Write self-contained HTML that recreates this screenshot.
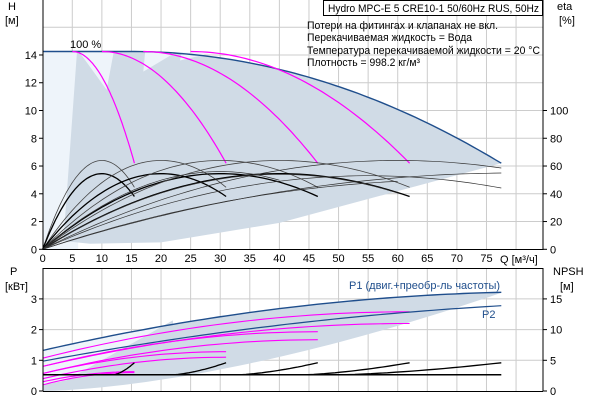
<!DOCTYPE html>
<html><head><meta charset="utf-8"><style>
body{margin:0;background:#fff}
svg{display:block;font-family:"Liberation Sans",sans-serif;font-size:11px}
</style></head><body>
<svg id="s" width="600" height="400" viewBox="0 0 600 400" xmlns="http://www.w3.org/2000/svg">
<g id="grid"></g>
<g id="shapes"></g>
<g id="lines"></g>
<line x1="43" y1="0" x2="43" y2="250" stroke="#000"/>
<line x1="43" y1="249.5" x2="543" y2="249.5" stroke="#000"/>
<line x1="543" y1="0" x2="543" y2="250" stroke="#000"/>
<line x1="43" y1="268.5" x2="543" y2="268.5" stroke="#000"/>
<line x1="43" y1="268" x2="43" y2="391" stroke="#000"/>
<line x1="43" y1="391.5" x2="543" y2="391.5" stroke="#000"/>
<line x1="543" y1="268" x2="543" y2="391" stroke="#000"/>
<g id="labels" fill="#000"></g>
<text x="8" y="10">H</text><text x="5" y="24">[м]</text>
<text x="557" y="10">eta</text><text x="559" y="24">[%]</text>
<text x="500" y="263">Q [м³/ч]</text>
<text x="10" y="275">P</text><text x="5" y="290">[кВт]</text>
<text x="553" y="275">NPSH</text><text x="560" y="290">[м]</text>
<text x="70" y="48">100 %</text>
<rect x="323.5" y="0.5" width="219" height="15" fill="#fff" stroke="#000"/>
<text x="328" y="12" textLength="211" lengthAdjust="spacingAndGlyphs">Hydro MPC-E 5 CRE10-1 50/60Hz RUS, 50Hz</text>
<text x="307" y="29" textLength="191" lengthAdjust="spacingAndGlyphs">Потери на фитингах и клапанах не вкл.</text>
<text x="307" y="41" textLength="165" lengthAdjust="spacingAndGlyphs">Перекачиваемая жидкость = Вода</text>
<text x="307" y="54" textLength="233" lengthAdjust="spacingAndGlyphs">Температура перекачиваемой жидкости = 20 °C</text>
<text x="307" y="66" textLength="113" lengthAdjust="spacingAndGlyphs">Плотность = 998.2 кг/м³</text>
<text x="349" y="289" fill="#1f4e8c">P1 (двиг.+преобр-ль частоты)</text>
<text x="482" y="318" fill="#1f4e8c">P2</text>
</svg>
<script>
(function(){
const NS="http://www.w3.org/2000/svg";
const X=q=>42.7+5.917*q, Yt=h=>249.3-13.88*h, Yb=p=>391-30.7*p;
function el(g,t,a,txt){const e=document.createElementNS(NS,t);for(const k in a)e.setAttribute(k,a[k]);if(txt!==undefined)e.textContent=String(txt);document.getElementById(g).appendChild(e);return e;}
function path(g,pts,a){a.d="M"+pts.map(p=>p[0].toFixed(1)+","+p[1].toFixed(1)).join("L");if(!a.fill)a.fill="none";el(g,"path",a);}
function samp(f,a,b,Y,n){n=n||60;const r=[];for(let i=0;i<=n;i++){const q=a+(b-a)*i/n;r.push([X(q),Y(f(q))]);}return r;}
for(let q=5;q<=80;q+=5){el("grid","line",{x1:X(q),y1:0,x2:X(q),y2:249,stroke:"#ccc"});el("grid","line",{x1:X(q),y1:269,x2:X(q),y2:391,stroke:"#ccc"});}
for(let h=2;h<=16;h+=2)el("grid","line",{x1:43,y1:Yt(h),x2:543,y2:Yt(h),stroke:"#ccc"});
for(let p=1;p<=3;p++)el("grid","line",{x1:43,y1:Yb(p),x2:543,y2:Yb(p),stroke:"#ccc"});
for(let q=0;q<=75;q+=5){el("labels","text",{x:X(q),y:262,"text-anchor":"middle"},q);}
for(let h=0;h<=14;h+=2){el("labels","text",{x:37,y:Yt(h)+4,"text-anchor":"end"},h);el("labels","line",{x1:39,y1:Yt(h),x2:43,y2:Yt(h),stroke:"#000"});}
for(let e=0;e<=100;e+=20){el("labels","text",{x:550,y:Yt(e/10)+4},e);el("labels","line",{x1:543,y1:Yt(e/10),x2:547,y2:Yt(e/10),stroke:"#000"});}
for(let p=0;p<=3;p++){el("labels","text",{x:37,y:Yb(p)+4,"text-anchor":"end"},p);el("labels","line",{x1:39,y1:Yb(p),x2:43,y2:Yb(p),stroke:"#000"});}
for(let n=0;n<=15;n+=5){el("labels","text",{x:550,y:Yb(n/5)+4},n);el("labels","line",{x1:543,y1:Yb(n/5),x2:547,y2:Yb(n/5),stroke:"#000"});}
const Hmax=q=>q<15?14.25:14.25-0.00206*(q-15)*(q-15);
el("shapes","rect",{x:X(0),y:Yt(14.25),width:X(6)-X(0),height:Yt(0)-Yt(14.25),fill:"#eef4fa"});
const tp=samp(Hmax,3,77.5,Yt,80);
const poly=[[X(3.5),Yt(0.6)],[X(5.8),Yt(14.25)]].concat(tp.slice(4)).concat([[X(77.5),Yt(6.2)],[X(40),Yt(1.9)],[X(20),Yt(0.5)],[X(8),Yt(0.4)],[X(3.5),Yt(0.6)]]);
path("shapes",poly,{fill:"#d0dbe6",stroke:"none"});
[[[6.2,14.2],[12,14.2],[10.8,11.5]],[[17.3,14.2],[22.5,14.2],[17,12.8]],[[23.5,14.2],[28,14.1],[23.2,13.6]]].forEach(w=>path("shapes",w.map(p=>[X(p[0]),Yt(p[1])]),{fill:"#eef4fa"}));
path("lines",samp(Hmax,0,77.5,Yt,80),{stroke:"#1f4e8c","stroke-width":1.4});
[[5,15.5],[10,31],[17,46.5],[25,62]].forEach(([s,b])=>{const k=(14.25-6.2)/((b-s)*(b-s));path("lines",samp(q=>14.25-k*(q-s)*(q-s),s,b,Yt,40),{stroke:"#ff00ff","stroke-width":1.2});});
const par=(pk,p)=>q=>{const u=(q-p)/p;return pk*(1-u*u);};
for(let n=1;n<=4;n++){const qe=15.5*n,p=10*n;
 path("lines",samp(par(6.4,p),0,qe,Yt,50),{stroke:"#444","stroke-width":0.8});
 path("lines",samp(par(5.45,p),0,qe,Yt,50),{stroke:"#000","stroke-width":1.3});}
[[30,5.6,40],[40,5.4,60],[55,5.3,77.5],[60,6.4,77.5],[80,5.5,77.5],[70,5.0,60]].forEach(([p,pk,e])=>path("lines",samp(par(pk,p),0,e,Yt,60),{stroke:"#333","stroke-width":0.7}));
const P1=q=>1.32+0.0443*q-0.000256*q*q, P2=q=>0.97+0.0358*q-0.000161*q*q;
path("shapes",samp(P1,0,22,Yb,20).concat([[X(22),Yb(2.3)],[X(4),Yb(0.35)],[X(0),Yb(0.2)]]),{fill:"#eef4fa"});
const lower=samp(q=>3.2*Math.pow(q/77.5,1.6),0,77.5,Yb,40).reverse();
path("shapes",[[X(0),Yb(0.2)],[X(4),Yb(0.35)],[X(22),Yb(2.3)]].concat(samp(P1,22,77.5,Yb,40)).concat(lower),{fill:"#d0dbe6"});
[[1.07,2.58,62],[0.8,2.2,62],[0.8,1.93,46.5],[0.57,1.67,46.5],[0.57,1.28,31],[0.4,1.1,31],[0.3,0.63,15.5],[0.2,0.6,15.5]].forEach(([a,b,e])=>path("lines",samp(q=>{const v=1-q/e;return a+(b-a)*(1-v*v);},0,e,Yb,30),{stroke:"#ff00ff","stroke-width":1.1}));
path("lines",samp(P1,0,77.5,Yb,60),{stroke:"#1f4e8c","stroke-width":1.4});
path("lines",samp(P2,0,77.5,Yb,60),{stroke:"#1f4e8c","stroke-width":1.2});
path("lines",[[X(0),Yb(0.53)],[X(77.5),Yb(0.53)]],{stroke:"#000","stroke-width":1.5});
[[12,15.5],[22,31],[33,46.5],[44,62],[50,77.5]].forEach(([a,b])=>path("lines",samp(q=>0.53+0.39*Math.pow((q-a)/(b-a),1.5),a,b,Yb,20),{stroke:"#000","stroke-width":1.3}));
})();
</script>
</body></html>
